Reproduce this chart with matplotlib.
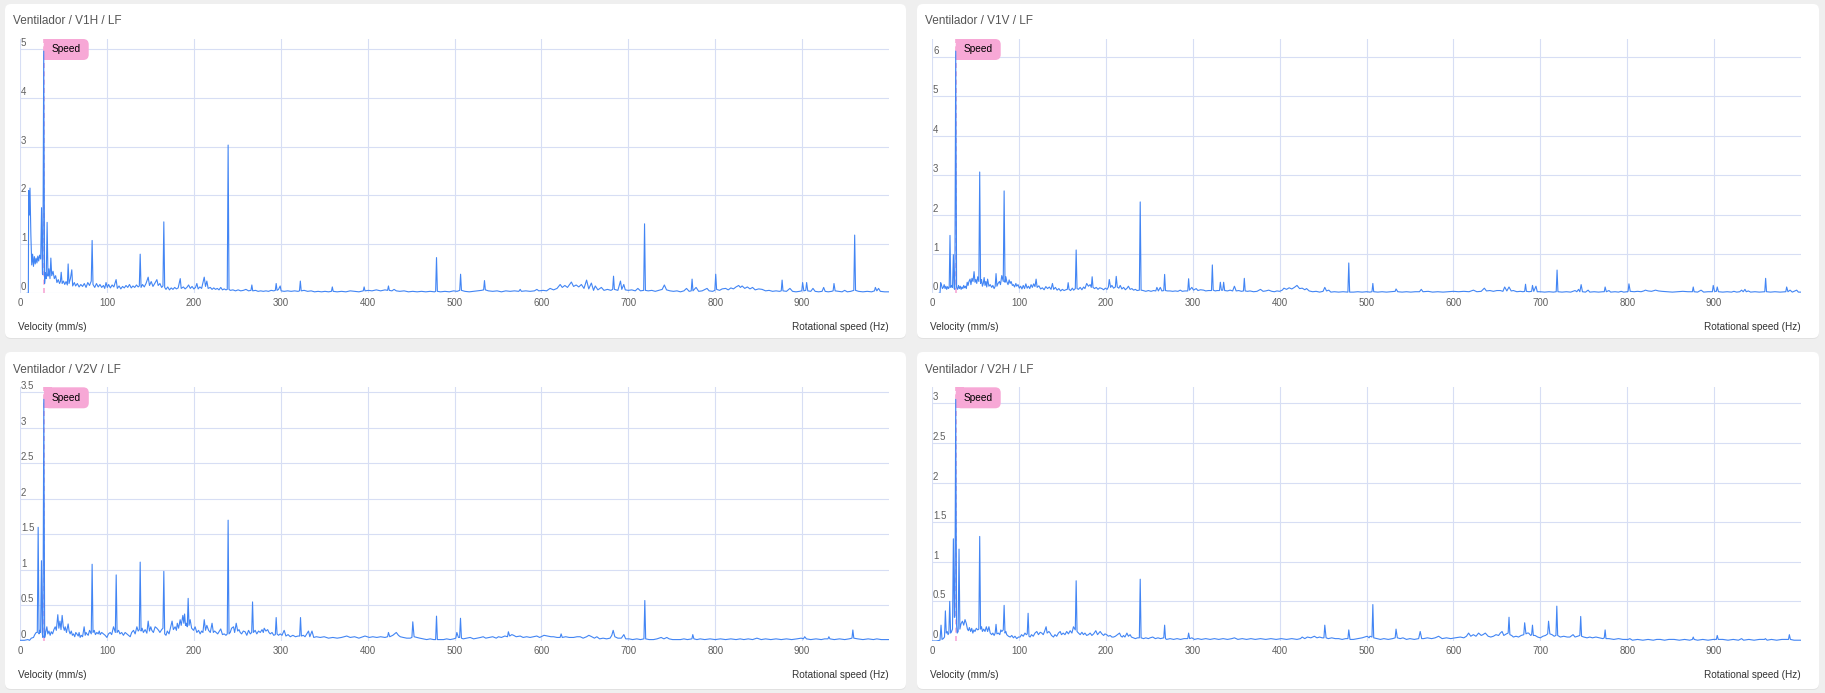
import matplotlib.pyplot as plt
import matplotlib.transforms as mtransforms
from matplotlib.patches import FancyBboxPatch, Rectangle
from matplotlib.offsetbox import DrawingArea, AnnotationBbox
from matplotlib.text import Text
from matplotlib.ticker import MultipleLocator

plt.rcParams['font.family'] = ['Liberation Sans', 'DejaVu Sans']

W, H = 1825, 693

titles = ['Ventilador / V1H / LF', 'Ventilador / V1V / LF',
          'Ventilador / V2V / LF', 'Ventilador / V2H / LF']
speed_hz = [27.3, 27.3, 27.4, 27.3]
y_steps = [1, 1, 0.5, 0.5]
x_ticks = [0, 100, 200, 300, 400, 500, 600, 700, 800, 900]

# (Hz, mm/s)
v1h = [(8.0,0.0),(9.6,0.0),(10.0,2.10),(10.8,1.60),(11.5,2.15),(12.5,1.20),(13.5,0.58),(14.5,0.80),(15.5,0.55),
       (16.5,0.75),(17.5,0.60),(18.5,0.72),(19.5,0.62),(20.5,0.76),(21.5,0.66),(22.5,0.78),(23.8,0.70),(24.8,1.75),
       (25.8,0.40),(26.3,0.38),(27.3,4.95),(28.3,0.20),(29.2,0.42),(30.2,0.30),(31.2,1.45),(32.2,0.35),(33.3,0.50),
       (34.5,0.30),(35.5,0.72),(36.5,0.36),(38.0,0.45),(39.5,0.30),(41.0,0.36),(42.5,0.22),(44.0,0.28),(45.5,0.20),
       (46.5,0.24),(47.4,0.43),(48.5,0.20),(50.0,0.25),(51.5,0.18),(53.0,0.24),(54.5,0.17),(55.4,0.60),(56.4,0.20),
       (58.0,0.30),(59.6,0.48),(60.6,0.15),(62.5,0.22),(64.0,0.15),(66.0,0.20),(68.0,0.13),(70.0,0.18),(72.0,0.14),
       (74.0,0.20),(76.0,0.12),(78.0,0.22),(80.0,0.16),(82.0,0.25),(83.0,1.08),(84.0,0.18),(86.0,0.12),(88.0,0.20),
       (90.0,0.13),(92.0,0.18),(94.0,0.12),(96.0,0.16),(97.5,0.10),(99.0,0.22),(100.5,0.12),(102.0,0.18),(104.0,0.11),
       (106.0,0.17),(108.0,0.13),(110.6,0.28),(112.0,0.10),(114.0,0.15),(116.0,0.09),(118.0,0.14),(120.0,0.11),
       (122.0,0.16),(124.0,0.12),(126.0,0.18),(128.0,0.11),(130.0,0.15),(132.0,0.12),(134.0,0.17),(136.0,0.13),
       (137.3,0.15),(138.3,0.80),(139.3,0.12),(141.0,0.18),(143.0,0.13),(145.0,0.20),(147.5,0.33),(149.0,0.16),
       (151.0,0.24),(153.0,0.14),(155.0,0.20),(157.5,0.28),(159.0,0.16),(161.0,0.20),(163.0,0.12),(164.5,0.15),
       (165.5,1.46),(166.5,0.12),(168.0,0.08),(170.0,0.13),(172.0,0.07),(174.0,0.11),(176.0,0.08),(178.0,0.12),
       (180.0,0.09),(182.0,0.11),(184.4,0.30),(185.5,0.10),(188.0,0.13),(190.0,0.09),(192.0,0.12),(194.0,0.17),
       (196.0,0.10),(198.0,0.14),(200.0,0.09),(202.0,0.12),(203.5,0.20),(205.0,0.09),(207.0,0.13),(209.0,0.10),
       (212.0,0.33),(213.5,0.14),(215.0,0.25),(216.5,0.10),(219.0,0.12),(221.0,0.08),(223.0,0.11),(225.0,0.08),
       (227.0,0.10),(229.0,0.07),(231.0,0.12),(233.0,0.07),(235.0,0.09),(237.0,0.07),(238.5,0.08),(239.5,3.03),
       (240.5,0.08),(242.0,0.06),(245.0,0.07),(248.0,0.05),(251.0,0.07),(254.0,0.05),(257.0,0.06),(260.0,0.08),
       (263.0,0.05),(265.8,0.06),(266.8,0.17),(267.8,0.05),(271.0,0.06),(274.0,0.04),(277.0,0.05),(280.0,0.04),
       (283.0,0.05),(286.0,0.04),(289.0,0.06),(292.0,0.05),(293.8,0.06),(294.8,0.20),(295.8,0.06),(297.5,0.08),
       (299.4,0.15),(300.5,0.05),(304.0,0.04),(308.0,0.05),(312.0,0.04),(316.0,0.05),(320.0,0.04),(321.6,0.05),
       (322.6,0.25),(323.6,0.05),(327.0,0.06),(331.0,0.04),(335.0,0.05),(339.0,0.03),(343.0,0.04),(347.0,0.03),
       (351.0,0.04),(355.0,0.03),(358.4,0.04),(359.4,0.13),(360.4,0.04),(365.0,0.03),(370.0,0.04),(375.0,0.03),
       (380.0,0.05),(385.0,0.04),(390.0,0.03),(395.0,0.05),(396.0,0.13),(397.0,0.05),(401.0,0.06),(405.0,0.05),
       (410.0,0.07),(415.0,0.05),(420.0,0.07),(423.0,0.06),(424.0,0.15),(425.0,0.06),(428.0,0.05),(430.5,0.08),
       (433.0,0.05),(437.0,0.04),(442.0,0.05),(447.0,0.03),(452.0,0.04),(457.0,0.03),(462.0,0.04),(467.0,0.03),
       (472.0,0.04),(477.0,0.03),(478.3,0.04),(479.3,0.73),(480.3,0.04),(484.0,0.03),(489.0,0.04),(494.0,0.03),
       (499.0,0.05),(503.0,0.04),(506.0,0.06),(507.0,0.39),(508.0,0.06),(512.0,0.04),(517.0,0.03),(522.0,0.04),
       (527.0,0.05),(531.0,0.06),(533.5,0.07),(534.5,0.26),(535.5,0.07),(539.0,0.05),(544.0,0.04),(549.0,0.05),
       (554.0,0.03),(559.0,0.05),(564.0,0.04),(569.0,0.05),(574.0,0.04),(575.6,0.08),(577.0,0.04),(582.0,0.05),
       (587.0,0.04),(592.0,0.05),(594.8,0.08),(597.0,0.05),(602.0,0.06),(606.0,0.05),(610.0,0.10),(614.0,0.07),
       (618.0,0.10),(621.6,0.18),(624.0,0.12),(627.0,0.16),(630.0,0.12),(634.5,0.23),(637.0,0.14),(640.0,0.17),
       (643.0,0.13),(646.0,0.18),(649.0,0.10),(652.0,0.27),(654.5,0.09),(657.5,0.21),(660.0,0.06),(662.0,0.15),
       (665.0,0.07),(669.0,0.12),(672.0,0.06),(676.0,0.08),(680.0,0.06),(682.0,0.08),(683.0,0.35),(684.0,0.08),
       (688.0,0.06),(691.0,0.25),(692.5,0.08),(694.8,0.18),(696.5,0.07),(700.0,0.06),(704.0,0.07),(708.0,0.05),
       (711.0,0.10),(714.0,0.05),(717.7,0.06),(718.7,1.42),(719.7,0.06),(723.0,0.05),(727.0,0.06),(731.0,0.04),
       (735.0,0.06),(739.0,0.08),(741.5,0.17),(744.0,0.07),(748.0,0.05),(752.0,0.04),(756.0,0.05),(760.0,0.03),
       (764.0,0.05),(767.0,0.10),(770.0,0.04),(772.4,0.05),(773.4,0.29),(774.4,0.05),(778.0,0.12),(781.0,0.04),
       (785.0,0.05),(790.6,0.10),(793.0,0.05),(797.0,0.04),(799.6,0.06),(800.6,0.39),(801.6,0.08),(805.0,0.06),
       (808.0,0.09),(812.0,0.10),(815.0,0.07),(818.0,0.11),(821.0,0.09),(824.0,0.13),(827.0,0.16),(829.0,0.12),
       (831.0,0.15),(834.0,0.10),(837.0,0.13),(840.0,0.09),(843.0,0.12),(846.0,0.07),(850.0,0.09),(854.0,0.08),
       (858.0,0.05),(862.0,0.06),(866.0,0.04),(870.0,0.05),(874.0,0.04),(876.0,0.05),(877.0,0.27),(878.0,0.05),
       (882.0,0.04),(886.0,0.10),(889.0,0.04),(893.0,0.03),(897.0,0.04),(899.6,0.05),(900.6,0.22),(902.0,0.05),
       (904.2,0.06),(905.2,0.22),(906.5,0.05),(910.0,0.04),(912.5,0.10),(915.0,0.04),(919.0,0.03),(923.0,0.04),
       (924.8,0.12),(926.5,0.04),(930.0,0.03),(934.0,0.04),(935.7,0.05),(936.7,0.20),(938.0,0.05),(942.0,0.04),
       (946.0,0.03),(949.0,0.06),(952.0,0.03),(956.0,0.04),(959.5,0.06),(960.5,1.19),(961.5,0.06),(965.0,0.04),
       (970.0,0.03),(975.0,0.04),(980.0,0.03),(983.3,0.05),(984.3,0.12),(986.0,0.05),(988.0,0.10),(990.0,0.04),
       (995.0,0.03),(1000.0,0.03)]

v1v = [(8.0,0.0),(9.2,0.0),(10.0,0.27),(11.0,0.20),(12.0,0.12),(13.0,0.15),(14.0,0.22),(15.0,0.12),(16.0,0.18),
       (16.9,0.10),(18.0,0.17),(19.0,0.12),(19.8,0.15),(20.7,1.47),(21.6,0.15),(22.5,0.20),(23.6,0.15),(24.6,0.98),
       (25.5,0.12),(26.3,0.10),(27.3,6.15),(28.3,0.15),(29.5,0.10),(30.5,0.20),(31.5,0.12),(32.5,0.18),(33.5,0.10),
       (34.5,0.16),(35.5,0.12),(36.5,0.20),(37.5,0.14),(38.5,0.18),(39.5,0.12),(40.5,0.28),(41.5,0.20),(42.5,0.30),
       (43.8,0.36),(44.8,0.22),(46.0,0.38),(47.2,0.30),(48.4,0.55),(49.5,0.28),(50.5,0.35),(51.5,0.25),(52.6,0.42),
       (53.9,0.30),(54.9,3.08),(55.9,0.25),(57.0,0.35),(58.0,0.18),(59.0,0.25),(60.0,0.40),(61.0,0.20),(62.0,0.30),
       (63.0,0.16),(64.0,0.36),(65.5,0.18),(67.0,0.22),(68.7,0.15),(70.0,0.20),(71.5,0.12),(72.7,0.18),(73.7,0.50),
       (74.7,0.18),(76.0,0.25),(77.6,0.30),(78.8,0.22),(80.3,0.45),(82.0,0.30),(83.0,2.60),(84.0,0.28),(85.0,0.42),
       (86.0,0.30),(87.5,0.22),(88.8,0.34),(89.9,0.25),(91.0,0.30),(92.5,0.20),(93.7,0.22),(95.0,0.16),(96.5,0.25),
       (97.5,0.18),(99.0,0.22),(100.5,0.13),(102.0,0.18),(103.5,0.11),(105.0,0.20),(106.5,0.12),(108.0,0.24),
       (109.5,0.13),(111.0,0.18),(112.5,0.12),(114.0,0.22),(115.5,0.15),(117.0,0.24),(118.5,0.17),(119.8,0.36),
       (121.0,0.15),(123.0,0.19),(125.0,0.11),(127.0,0.14),(129.0,0.09),(131.0,0.17),(133.0,0.12),(135.0,0.16),
       (137.0,0.10),(138.6,0.25),(140.0,0.10),(142.0,0.15),(144.0,0.08),(146.0,0.12),(148.0,0.06),(150.0,0.10),
       (152.0,0.07),(154.0,0.09),(155.7,0.10),(156.7,0.27),(157.7,0.10),(159.5,0.07),(161.5,0.13),(163.0,0.08),
       (164.9,0.12),(165.9,1.10),(166.9,0.12),(168.5,0.10),(170.5,0.15),(172.5,0.09),(174.5,0.16),(176.0,0.12),
       (178.0,0.25),(180.0,0.18),(182.0,0.22),(183.3,0.15),(184.3,0.42),(185.3,0.15),(187.0,0.12),(189.0,0.15),
       (191.0,0.10),(193.0,0.14),(195.5,0.12),(197.5,0.09),(199.5,0.13),(201.5,0.10),(203.0,0.16),(204.0,0.35),
       (205.5,0.15),(207.0,0.20),(209.0,0.13),(211.0,0.16),(212.0,0.43),(213.2,0.16),(215.0,0.13),(216.6,0.20),
       (218.5,0.11),(220.5,0.15),(222.5,0.09),(224.5,0.13),(226.0,0.18),(228.0,0.10),(230.0,0.12),(232.0,0.08),
       (234.0,0.10),(236.0,0.07),(238.6,0.08),(239.6,2.32),(240.6,0.08),(243.0,0.07),(246.0,0.05),(249.0,0.07),
       (252.0,0.05),(255.0,0.07),(257.5,0.06),(258.8,0.15),(260.5,0.06),(262.7,0.15),(264.5,0.06),(266.7,0.07),
       (267.7,0.48),(268.7,0.07),(271.0,0.06),(274.0,0.06),(277.0,0.05),(280.0,0.06),(283.0,0.05),(285.7,0.08),
       (288.0,0.05),(291.0,0.06),(294.3,0.06),(295.3,0.37),(296.3,0.08),(299.0,0.15),(301.0,0.08),(304.0,0.12),
       (306.0,0.07),(309.0,0.09),(312.6,0.08),(315.0,0.06),(318.0,0.07),(321.6,0.07),(322.6,0.72),(323.6,0.08),
       (326.0,0.06),(328.0,0.07),(330.8,0.07),(331.8,0.28),(333.0,0.08),(334.6,0.08),(335.6,0.28),(336.8,0.07),
       (340.0,0.06),(343.0,0.08),(346.0,0.06),(348.0,0.18),(350.0,0.06),(353.0,0.07),(356.0,0.05),(358.4,0.06),
       (359.4,0.38),(360.4,0.06),(363.0,0.05),(366.0,0.06),(370.0,0.04),(374.0,0.05),(378.0,0.10),(381.0,0.05),
       (384.0,0.06),(387.5,0.08),(391.0,0.05),(394.0,0.04),(397.0,0.06),(400.0,0.05),(403.0,0.08),(405.0,0.13),
       (408.0,0.10),(411.0,0.14),(414.0,0.11),(417.0,0.15),(420.0,0.20),(423.0,0.12),(426.0,0.13),(429.0,0.09),
       (431.0,0.12),(434.0,0.06),(438.0,0.04),(442.0,0.05),(446.0,0.03),(450.0,0.05),(452.0,0.15),(454.0,0.06),
       (456.6,0.08),(459.0,0.03),(463.0,0.04),(468.0,0.03),(473.0,0.04),(478.6,0.03),(479.6,0.77),(480.6,0.03),
       (485.0,0.03),(490.0,0.04),(495.0,0.03),(500.0,0.04),(504.0,0.03),(506.3,0.04),(507.3,0.25),(508.3,0.04),
       (513.0,0.03),(518.0,0.04),(523.0,0.03),(528.0,0.04),(533.0,0.05),(534.0,0.11),(536.0,0.04),(541.0,0.03),
       (546.0,0.04),(551.0,0.03),(556.0,0.04),(561.0,0.04),(563.0,0.10),(565.0,0.04),(571.0,0.05),(576.0,0.03),
       (582.0,0.04),(588.0,0.03),(594.0,0.04),(600.0,0.05),(606.0,0.04),(612.0,0.05),(618.0,0.04),(623.0,0.08),
       (627.0,0.04),(632.0,0.05),(635.6,0.13),(638.0,0.06),(642.0,0.07),(646.0,0.05),(650.0,0.07),(654.0,0.07),
       (657.0,0.05),(659.0,0.16),(661.5,0.06),(664.0,0.16),(666.5,0.06),(669.0,0.07),(673.0,0.04),(677.0,0.05),
       (680.0,0.04),(682.0,0.05),(683.0,0.23),(684.0,0.05),(687.0,0.04),(690.0,0.05),(691.0,0.20),(692.5,0.05),
       (695.0,0.18),(696.5,0.04),(700.0,0.04),(705.0,0.03),(710.0,0.04),(715.0,0.03),(718.3,0.04),(719.3,0.59),
       (720.3,0.04),(725.0,0.03),(730.0,0.04),(735.0,0.03),(740.0,0.07),(742.0,0.04),(744.0,0.10),(745.5,0.04),
       (747.0,0.22),(748.5,0.04),(752.0,0.03),(755.0,0.08),(757.0,0.03),(762.0,0.04),(767.0,0.03),(772.0,0.04),
       (773.6,0.04),(774.6,0.16),(776.0,0.04),(779.0,0.07),(781.0,0.03),(786.0,0.04),(790.0,0.03),(793.0,0.05),
       (796.0,0.03),(800.0,0.04),(801.0,0.05),(802.0,0.24),(803.5,0.05),(808.0,0.04),(812.0,0.05),(816.0,0.04),
       (819.0,0.06),(821.0,0.08),(824.0,0.06),(828.0,0.05),(832.6,0.08),(836.0,0.06),(840.0,0.05),(846.0,0.04),
       (852.0,0.03),(858.0,0.04),(864.0,0.05),(870.0,0.04),(875.0,0.04),(876.0,0.16),(877.0,0.04),(881.0,0.03),
       (885.0,0.08),(888.0,0.03),(893.0,0.04),(898.0,0.04),(899.0,0.20),(900.5,0.05),(902.6,0.05),(903.6,0.16),
       (905.0,0.04),(910.0,0.03),(915.0,0.04),(920.0,0.03),(922.8,0.05),(926.0,0.03),(929.5,0.04),(931.6,0.08),
       (933.5,0.04),(935.5,0.10),(937.0,0.04),(939.4,0.06),(942.0,0.03),(947.0,0.04),(952.0,0.03),(958.3,0.04),
       (959.3,0.38),(960.3,0.04),(965.0,0.03),(970.0,0.04),(976.0,0.03),(982.5,0.04),(983.5,0.16),(985.0,0.04),
       (987.4,0.08),(990.0,0.03),(995.0,0.08),(997.0,0.03),(1000.0,0.03)]

v2v = [(0.0,0.01),(5.0,0.01),(9.0,0.02),(11.0,0.01),(13.0,0.04),(15.5,0.05),(17.0,0.09),(18.6,0.12),(19.9,0.12),
       (20.9,1.60),(21.9,0.10),(22.8,0.15),(23.7,0.12),(24.7,1.13),(25.7,0.10),(26.4,0.05),(27.4,3.40),(28.4,0.05),
       (29.5,0.12),(30.9,0.20),(32.0,0.10),(33.3,0.14),(34.7,0.08),(36.0,0.13),(37.5,0.10),(39.0,0.16),(40.5,0.20),
       (41.8,0.15),(43.5,0.37),(44.7,0.18),(46.0,0.28),(47.2,0.16),(48.5,0.36),(49.8,0.20),(51.0,0.15),(52.0,0.20),
       (53.5,0.12),(55.4,0.24),(56.5,0.14),(57.7,0.10),(59.0,0.14),(60.3,0.08),(61.6,0.10),(63.0,0.06),(64.2,0.12),
       (65.4,0.10),(67.0,0.07),(68.0,0.12),(69.2,0.05),(70.5,0.08),(72.0,0.06),(73.8,0.20),(75.0,0.08),(76.0,0.12),
       (77.0,0.10),(78.5,0.08),(80.0,0.15),(82.0,0.10),(83.0,1.08),(84.0,0.12),(85.4,0.15),(86.8,0.09),(88.4,0.12),
       (90.0,0.10),(91.2,0.14),(92.3,0.09),(94.0,0.12),(96.0,0.10),(98.0,0.08),(100.0,0.05),(101.8,0.10),(103.8,0.12),
       (105.5,0.09),(107.6,0.20),(109.7,0.12),(110.7,0.93),(111.7,0.12),(113.4,0.15),(115.0,0.10),(117.0,0.12),
       (119.0,0.08),(121.0,0.12),(123.0,0.10),(125.0,0.08),(126.8,0.06),(128.5,0.12),(130.6,0.15),(132.5,0.10),
       (134.5,0.20),(136.0,0.14),(137.3,0.16),(138.3,1.11),(139.3,0.14),(140.5,0.18),(142.0,0.12),(144.0,0.16),
       (146.0,0.11),(147.5,0.28),(149.0,0.14),(150.5,0.20),(151.7,0.15),(153.5,0.12),(155.5,0.20),(157.5,0.18),
       (159.5,0.15),(161.0,0.12),(163.0,0.16),(164.5,0.18),(165.5,0.98),(166.5,0.10),(168.0,0.08),(169.5,0.14),
       (171.5,0.10),(173.0,0.18),(175.0,0.28),(176.5,0.16),(178.5,0.20),(180.0,0.15),(181.0,0.25),(182.5,0.18),
       (184.3,0.30),(185.5,0.22),(187.4,0.36),(188.5,0.25),(189.4,0.38),(190.5,0.22),(191.5,0.25),(192.5,0.20),
       (193.5,0.60),(194.5,0.22),(195.8,0.30),(197.5,0.18),(199.7,0.15),(201.5,0.20),(203.5,0.12),(205.5,0.15),
       (207.3,0.10),(209.0,0.14),(210.5,0.12),(212.0,0.30),(213.5,0.15),(215.0,0.22),(217.0,0.15),(219.0,0.12),
       (221.0,0.25),(222.5,0.12),(224.0,0.14),(225.7,0.12),(227.5,0.10),(229.0,0.13),(231.0,0.17),(233.0,0.09),
       (235.0,0.10),(237.0,0.08),(238.5,0.10),(239.5,1.70),(240.5,0.10),(241.9,0.12),(243.5,0.18),(245.7,0.20),
       (247.0,0.12),(248.8,0.25),(250.5,0.14),(252.0,0.16),(253.4,0.12),(255.0,0.10),(257.0,0.14),(259.0,0.13),
       (261.0,0.08),(263.0,0.15),(265.0,0.10),(266.6,0.12),(267.6,0.55),(268.6,0.12),(270.6,0.15),(272.5,0.10),
       (274.5,0.14),(276.5,0.12),(278.5,0.16),(280.0,0.12),(281.0,0.18),(283.0,0.14),(285.0,0.16),(286.5,0.12),
       (288.0,0.10),(290.0,0.12),(292.0,0.08),(293.8,0.09),(294.8,0.33),(295.8,0.10),(297.5,0.08),(299.4,0.10),
       (301.5,0.08),(304.0,0.15),(306.0,0.07),(308.5,0.09),(311.0,0.06),(314.0,0.08),(317.0,0.06),(320.0,0.07),
       (321.8,0.07),(322.8,0.33),(323.8,0.07),(326.0,0.08),(328.0,0.06),(330.0,0.10),(332.0,0.14),(333.5,0.06),
       (336.0,0.14),(338.0,0.05),(341.0,0.06),(345.5,0.05),(350.0,0.06),(355.0,0.04),(360.0,0.05),(365.0,0.04),
       (370.0,0.05),(376.0,0.07),(380.0,0.05),(385.0,0.06),(390.0,0.04),(397.0,0.07),(402.0,0.05),(406.0,0.06),
       (410.6,0.05),(415.0,0.06),(420.0,0.05),(423.0,0.06),(424.0,0.12),(425.5,0.06),(429.0,0.08),(433.0,0.12),
       (435.5,0.08),(437.6,0.06),(441.0,0.05),(445.0,0.04),(449.0,0.04),(451.0,0.05),(452.0,0.27),(453.5,0.06),
       (456.6,0.05),(460.0,0.04),(464.0,0.03),(468.0,0.02),(472.0,0.03),(476.0,0.02),(478.3,0.02),(479.3,0.35),
       (480.3,0.02),(484.0,0.02),(487.4,0.02),(491.0,0.03),(495.0,0.02),(499.0,0.03),(501.5,0.04),(502.7,0.12),
       (504.5,0.05),(505.9,0.05),(506.9,0.32),(508.0,0.04),(510.0,0.03),(514.0,0.04),(518.0,0.05),(522.0,0.03),
       (526.0,0.04),(530.0,0.05),(533.0,0.06),(536.0,0.04),(540.0,0.05),(544.0,0.06),(548.0,0.04),(550.6,0.06),
       (554.0,0.05),(558.0,0.07),(561.0,0.06),(562.0,0.13),(563.5,0.07),(566.0,0.09),(568.0,0.08),(571.0,0.06),
       (575.6,0.07),(579.0,0.05),(583.0,0.06),(587.0,0.05),(591.0,0.06),(594.7,0.07),(598.0,0.05),(603.0,0.08),
       (607.0,0.07),(611.0,0.06),(614.0,0.06),(618.0,0.05),(621.5,0.05),(622.7,0.10),(624.0,0.05),(628.0,0.06),
       (632.0,0.05),(637.0,0.05),(641.0,0.06),(644.6,0.06),(648.0,0.04),(652.0,0.06),(654.6,0.08),(658.0,0.06),
       (661.0,0.04),(663.8,0.06),(667.0,0.03),(671.0,0.04),(675.0,0.03),(679.0,0.04),(681.0,0.08),(682.6,0.15),
       (684.5,0.06),(688.0,0.04),(692.0,0.04),(694.9,0.09),(697.0,0.03),(701.0,0.03),(705.0,0.02),(709.8,0.03),
       (714.0,0.02),(718.0,0.03),(719.0,0.57),(720.0,0.03),(724.0,0.02),(729.0,0.02),(733.0,0.03),(737.8,0.05),
       (741.0,0.03),(744.3,0.05),(747.0,0.03),(751.0,0.02),(756.0,0.02),(760.0,0.02),(764.0,0.03),(768.0,0.02),
       (773.2,0.03),(774.2,0.09),(775.5,0.03),(779.0,0.02),(782.7,0.03),(788.0,0.02),(794.0,0.03),(800.0,0.02),
       (806.0,0.03),(812.0,0.02),(818.0,0.03),(824.0,0.02),(828.7,0.03),(833.0,0.02),(838.0,0.03),(843.0,0.02),
       (848.0,0.04),(853.0,0.02),(858.0,0.03),(864.0,0.02),(870.0,0.03),(876.0,0.02),(882.0,0.03),(888.0,0.02),
       (894.0,0.03),(899.0,0.04),(901.5,0.03),(903.0,0.06),(905.0,0.03),(910.0,0.02),(916.0,0.03),(922.0,0.02),
       (926.0,0.03),(929.8,0.03),(930.8,0.06),(932.0,0.03),(937.0,0.02),(943.0,0.03),(949.0,0.02),(954.0,0.03),
       (957.4,0.04),(958.4,0.155),(959.5,0.04),(964.0,0.03),(970.0,0.02),(976.0,0.03),(982.0,0.02),(986.0,0.03),
       (991.0,0.02),(996.0,0.02),(1000.0,0.02)]

v2h = [(0.0,0.0),(5.0,0.0),(9.2,0.01),(10.4,0.20),(11.5,0.02),(13.0,0.03),(14.4,0.05),(15.4,0.38),(16.4,0.10),
       (17.5,0.12),(18.5,0.08),(19.4,0.10),(20.4,0.50),(21.4,0.10),(22.5,0.12),(23.6,0.15),(24.6,1.29),(25.7,0.30),
       (26.3,0.30),(27.3,3.05),(28.3,0.20),(29.0,0.10),(30.1,0.12),(31.1,1.16),(32.1,0.15),(33.5,0.22),(35.0,0.25),
       (36.5,0.20),(38.0,0.27),(39.5,0.22),(40.8,0.15),(41.9,0.13),(43.0,0.17),(44.5,0.12),(45.7,0.16),(47.0,0.10),
       (48.2,0.14),(49.5,0.12),(51.0,0.16),(52.6,0.14),(53.9,0.15),(54.9,1.32),(55.9,0.15),(57.0,0.18),(58.0,0.12),
       (59.5,0.15),(61.0,0.12),(62.5,0.18),(64.0,0.12),(65.5,0.18),(67.0,0.10),(68.7,0.08),(70.0,0.10),(71.5,0.07),
       (72.7,0.10),(73.7,0.21),(74.7,0.09),(76.4,0.10),(78.0,0.08),(79.2,0.14),(80.3,0.12),(82.0,0.14),(83.0,0.45),
       (84.0,0.10),(85.0,0.12),(86.0,0.08),(88.0,0.06),(90.0,0.05),(91.8,0.07),(93.7,0.04),(95.5,0.06),(97.5,0.03),
       (99.5,0.05),(101.4,0.05),(103.0,0.08),(105.0,0.06),(107.0,0.10),(108.5,0.08),(109.6,0.09),(110.6,0.35),
       (111.6,0.06),(112.9,0.05),(114.5,0.08),(116.5,0.06),(118.5,0.10),(120.6,0.12),(122.5,0.08),(124.5,0.11),
       (126.3,0.10),(128.0,0.08),(129.5,0.12),(131.3,0.18),(132.5,0.10),(134.5,0.12),(136.0,0.10),(137.5,0.07),
       (139.8,0.05),(141.5,0.08),(143.5,0.06),(145.5,0.10),(147.5,0.12),(149.0,0.08),(151.0,0.10),(153.0,0.08),
       (155.0,0.12),(157.0,0.09),(159.0,0.13),(161.0,0.10),(162.8,0.18),(164.9,0.14),(165.9,0.76),(166.9,0.12),
       (168.6,0.10),(170.5,0.08),(172.5,0.11),(174.3,0.08),(176.0,0.10),(178.0,0.07),(180.0,0.08),(182.0,0.10),
       (184.0,0.07),(186.0,0.09),(188.5,0.13),(190.5,0.08),(192.0,0.10),(193.5,0.12),(195.5,0.09),(197.5,0.07),
       (199.0,0.09),(201.0,0.08),(203.0,0.06),(205.0,0.07),(207.0,0.05),(209.0,0.05),(211.0,0.06),(213.5,0.08),
       (215.8,0.10),(217.5,0.06),(219.0,0.05),(220.4,0.07),(222.0,0.05),(224.3,0.10),(226.0,0.06),(228.0,0.08),
       (229.5,0.05),(231.8,0.04),(234.0,0.03),(236.5,0.04),(238.6,0.04),(239.6,0.78),(240.6,0.04),(243.5,0.03),
       (246.0,0.04),(249.0,0.03),(251.0,0.04),(254.0,0.05),(257.0,0.03),(260.0,0.04),(263.0,0.03),(266.7,0.04),
       (267.7,0.20),(268.7,0.03),(270.0,0.02),(274.0,0.03),(278.0,0.02),(282.0,0.03),(286.0,0.02),(290.0,0.03),
       (294.3,0.03),(295.3,0.10),(296.5,0.03),(299.0,0.04),(302.0,0.02),(306.0,0.03),(310.0,0.02),(315.0,0.03),
       (320.0,0.02),(325.0,0.03),(330.0,0.02),(335.0,0.03),(340.0,0.02),(345.0,0.03),(348.0,0.04),(352.0,0.02),
       (357.0,0.03),(362.0,0.02),(367.0,0.03),(372.0,0.02),(378.0,0.03),(384.0,0.02),(390.0,0.03),(396.0,0.02),
       (402.0,0.03),(408.0,0.02),(414.0,0.03),(420.0,0.02),(424.0,0.03),(426.0,0.05),(429.0,0.03),(432.0,0.05),
       (436.0,0.04),(440.0,0.06),(443.0,0.04),(446.0,0.05),(449.0,0.04),(451.0,0.04),(452.0,0.20),(453.5,0.04),
       (456.0,0.03),(460.0,0.04),(464.0,0.03),(468.0,0.03),(472.0,0.02),(476.0,0.03),(478.6,0.03),(479.6,0.14),
       (481.0,0.02),(485.0,0.02),(490.0,0.03),(495.0,0.04),(500.8,0.06),(503.0,0.04),(504.0,0.06),(506.3,0.05),
       (507.3,0.46),(508.3,0.04),(512.0,0.03),(516.0,0.02),(520.0,0.03),(525.0,0.02),(530.0,0.03),(533.0,0.04),
       (534.0,0.15),(535.5,0.04),(538.8,0.03),(542.0,0.04),(546.0,0.02),(550.0,0.03),(555.0,0.02),(560.0,0.03),
       (561.8,0.12),(563.5,0.03),(565.7,0.03),(570.0,0.04),(575.0,0.03),(579.0,0.04),(583.0,0.06),(587.0,0.03),
       (592.0,0.04),(597.0,0.03),(602.0,0.04),(608.0,0.05),(612.0,0.04),(615.0,0.06),(617.5,0.10),(620.0,0.06),
       (623.0,0.08),(626.0,0.06),(629.0,0.10),(632.0,0.07),(634.0,0.08),(636.7,0.10),(640.0,0.06),(643.0,0.05),
       (646.0,0.06),(649.0,0.08),(652.0,0.07),(654.0,0.10),(656.0,0.12),(658.0,0.07),(661.0,0.09),(663.0,0.10),
       (664.0,0.30),(665.0,0.08),(667.0,0.07),(669.0,0.05),(672.0,0.06),(675.0,0.05),(678.0,0.07),(681.0,0.08),
       (682.0,0.23),(683.5,0.09),(685.0,0.10),(686.6,0.10),(689.0,0.07),(690.0,0.08),(691.0,0.20),(692.0,0.07),
       (694.0,0.07),(697.0,0.05),(700.0,0.04),(703.0,0.06),(706.0,0.07),(708.5,0.09),(709.5,0.25),(711.0,0.09),
       (713.5,0.08),(716.0,0.06),(718.0,0.07),(719.0,0.44),(720.0,0.07),(723.0,0.05),(727.0,0.06),(731.0,0.05),
       (734.0,0.05),(737.7,0.08),(740.0,0.05),(743.0,0.06),(745.5,0.07),(746.5,0.31),(747.5,0.06),(750.0,0.05),
       (753.8,0.04),(757.0,0.05),(760.0,0.04),(764.0,0.05),(768.0,0.04),(772.0,0.03),(773.6,0.04),(774.6,0.14),
       (775.6,0.03),(779.0,0.03),(784.6,0.02),(790.0,0.03),(795.0,0.02),(801.0,0.02),(803.0,0.03),(806.0,0.01),
       (812.0,0.02),(818.0,0.01),(824.0,0.02),(830.0,0.01),(834.0,0.02),(838.0,0.02),(843.0,0.01),(848.0,0.02),
       (854.0,0.02),(860.0,0.01),(866.0,0.02),(872.0,0.01),(875.0,0.02),(876.0,0.05),(877.0,0.02),(881.0,0.01),
       (887.0,0.02),(893.0,0.01),(899.0,0.02),(902.6,0.02),(903.6,0.07),(904.8,0.02),(910.0,0.02),(916.0,0.01),
       (922.0,0.02),(928.0,0.01),(931.6,0.03),(934.0,0.01),(940.0,0.02),(946.0,0.01),(952.0,0.02),(958.0,0.02),
       (959.0,0.03),(961.0,0.01),(966.0,0.02),(972.0,0.01),(978.0,0.02),(985.6,0.02),(986.6,0.08),(987.8,0.02),
       (992.0,0.01),(996.0,0.01),(1000.0,0.01)]

spectra = [v1h, v1v, v2v, v2h]

BG = '#efefef'
LINE = '#4285f4'
GRID = '#d7def4'
PINK = '#f7a8d6'
TICK_C = '#5f5f5f'

# card boxes and plot areas in pixels: (left, top, width, height)
cards = [(5, 4, 901, 334), (917, 4, 902, 334), (5, 352, 901, 337), (917, 352, 902, 337)]
areas = [(20, 39, 869, 254.3), (932, 39, 869, 254.3), (20, 387.3, 869, 253.7), (932, 387.3, 869, 253.7)]

fig = plt.figure(figsize=(W / 100, H / 100), dpi=100, facecolor=BG)
bg = fig.add_axes([0, 0, 1, 1])
bg.set_xlim(0, W)
bg.set_ylim(H, 0)
bg.axis('off')
for (l, t, w, h) in cards:
    bg.add_patch(FancyBboxPatch((l, t + 1), w, h, boxstyle='round,pad=0,rounding_size=6',
                                fc='#d9d9d9', ec='none', alpha=0.6))
    bg.add_patch(FancyBboxPatch((l, t), w, h, boxstyle='round,pad=0,rounding_size=6',
                                fc='white', ec='none'))

for i, data in enumerate(spectra):
    l, t, w, h = areas[i]
    ax = fig.add_axes([l / W, 1 - (t + h) / H, w / W, h / H])
    ax.set_facecolor('none')
    hz = [p[0] for p in data]
    vel = [p[1] for p in data]

    ax.axvline(speed_hz[i], color=PINK, lw=1.2, ls=(0, (3, 2)), zorder=1)
    ax.plot(hz, vel, color=LINE, lw=0.8, zorder=3)

    ax.set_xlim(0, 1000)
    ax.set_ylim(0, max(vel) * 1.05)
    ax.set_xticks(x_ticks)
    ax.yaxis.set_major_locator(MultipleLocator(y_steps[i]))
    ax.grid(True, color=GRID, lw=0.8)
    ax.set_axisbelow(True)
    for s in ax.spines.values():
        s.set_visible(False)
    ax.tick_params(length=0, labelsize=7, labelcolor=TICK_C)
    ax.tick_params(axis='x', pad=3.5)
    ax.tick_params(axis='y', labelleft=False)

    # y labels sit inside the plot, just above their grid line
    ytf = mtransforms.offset_copy(ax.get_yaxis_transform(), fig=fig, x=1, y=1, units='dots')
    top = ax.get_ylim()[1]
    for v in ax.get_yticks():
        if 0 <= v <= top:
            ax.text(0, v, f'{v:g}', transform=ytf, ha='left', va='bottom',
                    fontsize=7, color=TICK_C)

    ax.annotate(titles[i], xy=(0, 1), xycoords='axes fraction', xytext=(-7, 17.5),
                textcoords='offset pixels', ha='left', va='center', fontsize=8.5, color='#555555')
    ax.annotate('Velocity (mm/s)', xy=(0, 0), xycoords='axes fraction', xytext=(-2, -34),
                textcoords='offset pixels', ha='left', va='center', fontsize=7.2, color='#333333')
    ax.annotate('Rotational speed (Hz)', xy=(1, 0), xycoords='axes fraction', xytext=(0, -34),
                textcoords='offset pixels', ha='right', va='center', fontsize=7.2, color='#333333')

    # "Speed" tag hanging from the top of the speed line (sizes in points)
    bw, bh = 45 / 1.389, 21 / 1.389
    da = DrawingArea(bw, bh, 0, 0)
    da.add_artist(FancyBboxPatch((0, 0), bw, bh, boxstyle='round,pad=0,rounding_size=4',
                                 fc=PINK, ec='none'))
    da.add_artist(Rectangle((0, 0), 6, bh, fc=PINK, ec='none'))
    da.add_artist(Text(bw / 2, bh / 2, 'Speed', ha='center', va='center', fontsize=7.3,
                       color='black', family=['Liberation Sans', 'DejaVu Sans']))
    ab = AnnotationBbox(da, (speed_hz[i], 1), xycoords=('data', 'axes fraction'),
                        box_alignment=(0, 1), frameon=False, pad=0, zorder=2)
    ax.add_artist(ab)

fig.savefig('out.png', dpi=100, facecolor=BG)
